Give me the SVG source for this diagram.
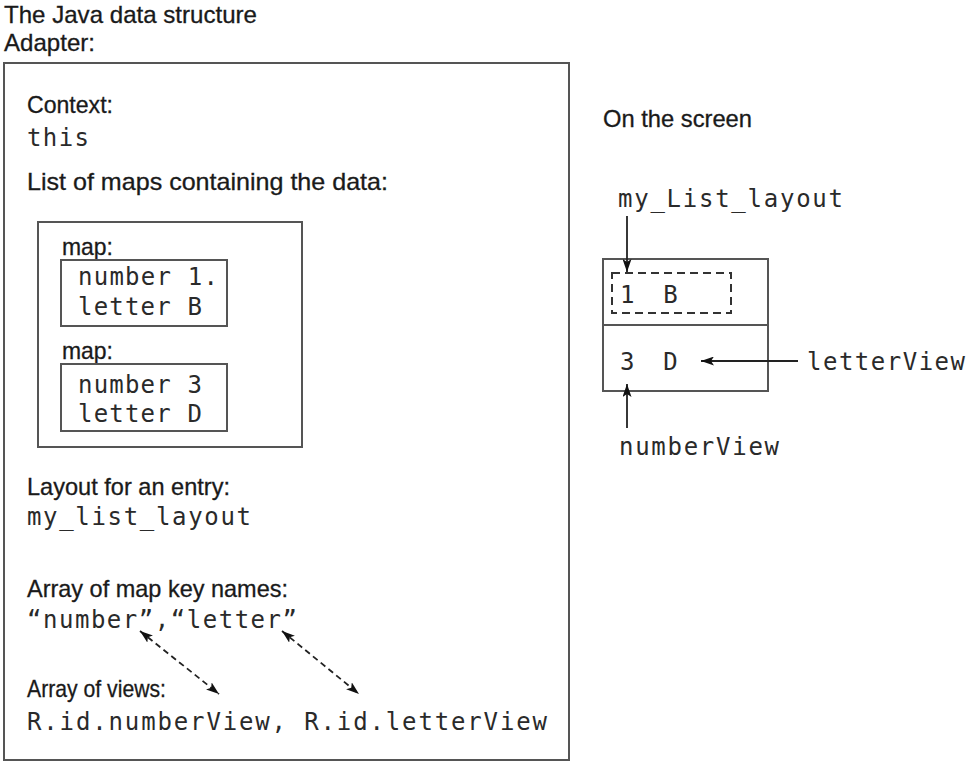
<svg xmlns="http://www.w3.org/2000/svg" width="967" height="763" viewBox="0 0 967 763">
<style>
.sans{font-family:"Liberation Sans Narrow","Liberation Sans",Arial,sans-serif;font-size:24px;fill:#1a1a1a;stroke:#1a1a1a;stroke-width:0.3}
.mono{font-family:"DejaVu Sans Mono","Liberation Mono",monospace;font-size:24px;fill:#2a2a2a}
.box{fill:none;stroke:#555;stroke-width:2}
.dbox{fill:none;stroke:#333;stroke-width:2;stroke-dasharray:8 5}
.conn{fill:none;stroke:#222;stroke-width:1.8}
.dash{stroke-dasharray:6 4}
</style>
<defs>
<marker id="ah" viewBox="0 0 13 9" refX="13" refY="4.5" markerWidth="13" markerHeight="9" markerUnits="userSpaceOnUse" orient="auto-start-reverse">
<path d="M0,0 L13,4.5 L0,9 L3,4.5 z" fill="#111" stroke="none"/>
</marker>
</defs>
<rect width="967" height="763" fill="#fff"/>

<g id="title">
<text class="sans" x="4" y="23" font-size="23" textLength="253" lengthAdjust="spacingAndGlyphs">The Java data structure</text>
<text class="sans" x="4" y="51" font-size="23" textLength="91" lengthAdjust="spacingAndGlyphs">Adapter:</text>
</g>

<g id="adapter">
<rect class="box" x="4" y="63" width="565" height="697"/>
<text class="sans" x="27" y="113" textLength="86" lengthAdjust="spacingAndGlyphs">Context:</text>
<text class="mono" x="27" y="146" textLength="62" lengthAdjust="spacing">this</text>
<text class="sans" x="27" y="190" textLength="361" lengthAdjust="spacingAndGlyphs">List of maps containing the data:</text>
<text class="sans" x="27" y="495" textLength="203" lengthAdjust="spacingAndGlyphs">Layout for an entry:</text>
<text class="mono" x="27" y="525" textLength="224" lengthAdjust="spacing">my_list_layout</text>
<text class="sans" x="27" y="597" textLength="261" lengthAdjust="spacingAndGlyphs">Array of map key names:</text>
<text class="mono" x="27" y="628" textLength="270" lengthAdjust="spacing">“number”,“letter”</text>
<text class="sans" x="27" y="697" textLength="139" lengthAdjust="spacingAndGlyphs">Array of views:</text>
<text class="mono" x="27" y="730" textLength="520" lengthAdjust="spacing">R.id.numberView, R.id.letterView</text>
</g>

<g id="map-list">
<rect class="box" x="38" y="222" width="264" height="225"/>
</g>

<g id="map1">
<text class="sans" x="62" y="255" textLength="51" lengthAdjust="spacingAndGlyphs">map:</text>
<rect class="box" x="61" y="260" width="166" height="66"/>
<text class="mono" x="78" y="285" textLength="140" lengthAdjust="spacing">number 1.</text>
<text class="mono" x="78" y="315" textLength="124" lengthAdjust="spacing">letter B</text>
</g>

<g id="map2">
<text class="sans" x="62" y="359" textLength="51" lengthAdjust="spacingAndGlyphs">map:</text>
<rect class="box" x="61" y="364" width="166" height="67"/>
<text class="mono" x="78" y="393" textLength="124" lengthAdjust="spacing">number 3</text>
<text class="mono" x="78" y="422" textLength="124" lengthAdjust="spacing">letter D</text>
</g>

<g id="screen">
<text class="sans" x="603" y="127" textLength="149" lengthAdjust="spacingAndGlyphs">On the screen</text>
<text class="mono" x="618" y="207" textLength="225" lengthAdjust="spacing">my_List_layout</text>
<rect class="box" x="603" y="259" width="165" height="132"/>
<line class="box" x1="603" y1="325" x2="768" y2="325"/>
</g>

<g id="row1">
<rect class="dbox" x="612" y="273" width="119" height="40"/>
<text class="mono" x="620" y="303" xml:space="preserve">1  B</text>
</g>

<g id="row2">
<text class="mono" x="620" y="370" xml:space="preserve">3  D</text>
</g>

<g id="labels-right">
<text class="mono" x="807" y="370" textLength="158" lengthAdjust="spacing">letterView</text>
<text class="mono" x="619" y="455" textLength="160" lengthAdjust="spacing">numberView</text>
</g>

<g id="connectors">
<line class="conn" x1="627" y1="216" x2="627" y2="272" marker-end="url(#ah)"/>
<line class="conn" x1="798" y1="361" x2="701" y2="361" marker-end="url(#ah)"/>
<line class="conn" x1="627" y1="428" x2="627" y2="384" marker-end="url(#ah)"/>
<line class="conn dash" x1="140" y1="631" x2="219" y2="694" marker-start="url(#ah)" marker-end="url(#ah)"/>
<line class="conn dash" x1="282" y1="631" x2="359" y2="694" marker-start="url(#ah)" marker-end="url(#ah)"/>
</g>
</svg>
